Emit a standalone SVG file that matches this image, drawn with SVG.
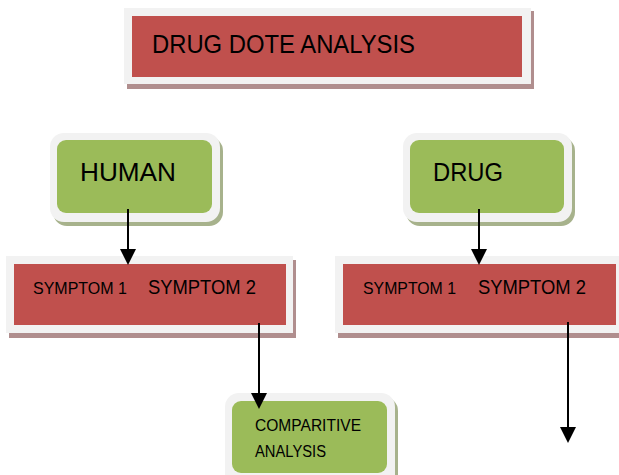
<svg xmlns="http://www.w3.org/2000/svg" width="619" height="475" viewBox="0 0 619 475">
<defs>
<style>
.frame{fill:#F2F2F2}
.rsh{fill:#B08E8E}
.gsh{fill:#A7B28C}
.red{fill:#C0504D}
.green{fill:#9BBB59}
text{font-family:"Liberation Sans",Arial,sans-serif;fill:#000}
.conn line{stroke:#000;stroke-width:2}
</style>
<marker id="ah" markerUnits="userSpaceOnUse" markerWidth="16" markerHeight="16" refX="6" refY="8" orient="auto">
<path d="M0,0 L16,8 L0,16 z" fill="#000"/>
</marker>
</defs>
<rect width="619" height="475" fill="#fff"/>
<g id="title">
<rect class="rsh" x="127" y="11" width="407" height="78"/>
<rect class="frame" x="124" y="8" width="407" height="76"/>
<rect class="red" x="132" y="16" width="390" height="61"/>
<text x="152" y="53" font-size="25" textLength="263" lengthAdjust="spacingAndGlyphs">DRUG DOTE ANALYSIS</text>
</g>
<g id="human">
<rect class="gsh" x="53" y="137" width="170" height="89" rx="14"/>
<rect class="frame" x="50" y="133" width="170" height="89" rx="14"/>
<rect class="green" x="57" y="140" width="155" height="73" rx="9"/>
<text x="80" y="181" font-size="25" textLength="96" lengthAdjust="spacingAndGlyphs">HUMAN</text>
</g>
<g id="drug">
<rect class="gsh" x="406" y="137" width="169" height="89" rx="14"/>
<rect class="frame" x="403" y="133" width="169" height="89" rx="14"/>
<rect class="green" x="410" y="140" width="154" height="73" rx="9"/>
<text x="433" y="181" font-size="25" textLength="70" lengthAdjust="spacingAndGlyphs">DRUG</text>
</g>
<g id="symptoms-human">
<rect class="rsh" x="9" y="260" width="287" height="78"/>
<rect class="frame" x="6" y="256" width="287" height="77"/>
<rect class="red" x="14" y="264" width="272" height="61"/>
<text x="33" y="294" font-size="17" textLength="94" lengthAdjust="spacingAndGlyphs">SYMPTOM 1</text>
<text x="148" y="294" font-size="20.5" textLength="108" lengthAdjust="spacingAndGlyphs">SYMPTOM 2</text>
</g>
<g id="symptoms-drug">
<rect class="rsh" x="338" y="260" width="290" height="78"/>
<rect class="frame" x="335" y="256" width="290" height="77"/>
<rect class="red" x="343" y="264" width="273" height="61"/>
<text x="363" y="294" font-size="17" textLength="93" lengthAdjust="spacingAndGlyphs">SYMPTOM 1</text>
<text x="478" y="294" font-size="20.5" textLength="108" lengthAdjust="spacingAndGlyphs">SYMPTOM 2</text>
</g>
<g id="comparative">
<rect class="gsh" x="228" y="397" width="170" height="95" rx="14"/>
<rect class="frame" x="225" y="393" width="170" height="95" rx="14"/>
<rect class="green" x="232" y="401" width="155" height="72" rx="9"/>
<text x="255" y="431" font-size="16" textLength="106" lengthAdjust="spacingAndGlyphs">COMPARITIVE</text>
<text x="255" y="457" font-size="16" textLength="71" lengthAdjust="spacingAndGlyphs">ANALYSIS</text>
</g>
<g class="conn" id="connectors">
<line x1="128" y1="209" x2="128" y2="255" marker-end="url(#ah)"/>
<line x1="479" y1="209" x2="479" y2="255" marker-end="url(#ah)"/>
<line x1="259" y1="323" x2="259" y2="399" marker-end="url(#ah)"/>
<line x1="568" y1="322" x2="568" y2="433" marker-end="url(#ah)"/>
</g>
</svg>
